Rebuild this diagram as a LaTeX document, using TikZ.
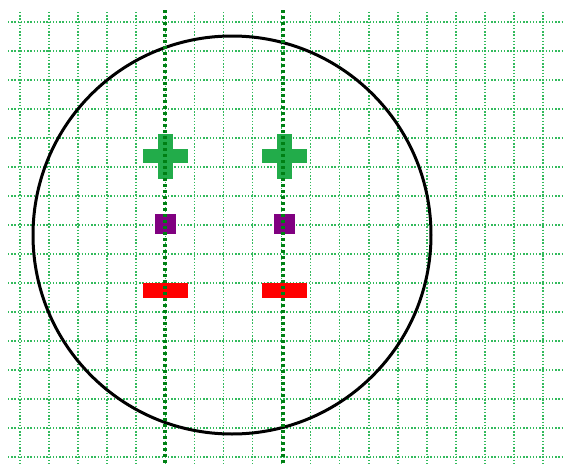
\documentclass[tikz,border=0pt]{standalone}
\usepackage{tikz}
\definecolor{gridgreen}{RGB}{50,186,92}
\definecolor{axisgreen}{RGB}{0,128,20}
\definecolor{plusgreen}{RGB}{34,172,74}
\definecolor{minusred}{RGB}{255,0,0}
\definecolor{dotpurple}{RGB}{128,0,128}
\tikzset{
  gridline/.style={line width=1.6pt, gridgreen, dash pattern=on 1.4pt off 1.8pt},
  axisline/.style={line width=3.2pt, axisgreen, dash pattern=on 3pt off 3pt},
  ring/.style={line width=3pt, black},
  plusmark/.style={fill=plusgreen},
  dotmark/.style={fill=dotpurple, draw=white, line width=0.6pt},
  minusmark/.style={fill=minusred},
}

\begin{document}
\begin{tikzpicture}[x=1pt, y=-1pt]
  \useasboundingbox[fill=white] (0,0) rectangle (563,464);

  % --- background grid -----------------------------------------------------
  \foreach \k in {0,...,15}
    \draw[gridline] (8,22+29*\k) -- (563,22+29*\k);
  \foreach \k in {0,...,18}
    \draw[gridline] (20+29.06*\k,12) -- (20+29.06*\k,464);

  % --- the circle ------------------------------------------------------------
  \draw[ring] (232,235) circle (199pt);

  % --- charges on both lines -------------------------------------------------
  \foreach \cx in {165,284} {
    % plus
    \fill[plusmark] (\cx-22.5,149) rectangle (\cx+22.5,163);
    \fill[plusmark] (\cx-7.5,134) rectangle (\cx+7.5,179);
    % purple square
    \filldraw[dotmark] (\cx-11,213) rectangle (\cx+11,234);
    % minus
    \fill[minusmark] (\cx-22.5,283) rectangle (\cx+22.5,298);
  }

  % --- the two dotted axes ---------------------------------------------------
  \draw[axisline] (165,10) -- (165,464);
  \draw[axisline] (283,10) -- (283,464);
\end{tikzpicture}
\end{document}
